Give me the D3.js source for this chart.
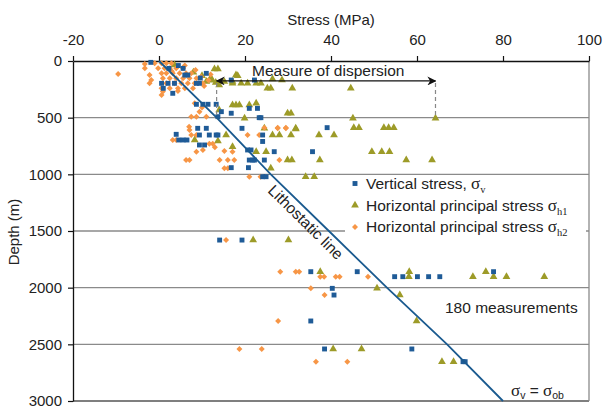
<!DOCTYPE html>
<html><head><meta charset="utf-8">
<script src="https://cdn.jsdelivr.net/npm/d3@7"></script>
<style>body{margin:0;background:#fff}svg{display:block;font-family:Arial,"Liberation Sans",sans-serif}</style>
</head><body><svg id="c" width="603" height="406"></svg>
<script>
// [stress (MPa), depth (m)]
const verticalStress = [
[-1.9,12],[2.3,65],[5.6,65],[6,124],[6.7,124],[0.6,197],[2.1,197],[3.6,197],[8.7,197],[9.4,197],[11,109],[3.2,285],[1,241],[9.6,150],[4.5,40],
[8.7,382],[10.2,382],[11.4,382],[13.3,382],[16.8,168],[22.2,168],
[21,418],[22.9,418],[16.8,461],[14.5,447],[13.7,491],[23.3,500],[23.7,500],
[4,647],[4.6,697],[5.6,697],[6.5,697],[9,594],[11,594],[9.4,653],[11.7,653],[13.3,653],[13.7,653],[9.4,741],[10.6,741],[19.3,594],[39.1,588],
[20.6,785],[21.4,785],[21,874],[21.8,874],[22.2,874],[16.8,941],[20.8,941],[24.1,1021],[24.9,1021],[24.1,653],[24.1,710],[26.8,800],[35.7,800],[24.5,874],
[14.1,1580],[19.3,1580],[35.3,1859],[46.1,1859],[54.8,1903],[56.7,1903],[60.1,1903],[62.7,1903],[65.3,1903],[77.8,1859],
[40.3,2006],[40.7,2065],[35.3,2294],[38.5,2541],[58.8,2541],[70.7,2653],[71.2,2653]
];
const sigmaH1 = [
[3.6,35],[12.9,71],[13.7,71],[12.4,170],[13.2,190],[14,212],[12,150],[10,130],[8,100],[11,180],[15.2,182],[17.1,182],[17.9,124],[18.3,130],
[17.1,197],[19.1,197],[20.6,197],[22.6,197],[23.7,197],[26.4,159],[28.6,168],[25.2,241],[26,241],[31,241],[44.6,241],
[17.1,388],[17.9,388],[18.7,388],[21,388],[22.6,373],[14,432],[19.9,506],[29.9,461],[30.7,461],[45.1,506],[64.3,506],
[31.8,600],[45.3,588],[46.5,588],[52.3,588],[53.4,588],[54.6,588],
[8.3,697],[13.7,706],[15.6,653],[17.1,756],[22.6,800],[24.9,800],[26.4,653],[28,653],[30.7,653],[31.8,594],[24.5,594],[37.2,653],[40.7,653],
[29.9,874],[30.9,874],[37.4,874],[26,947],[34.1,1021],[36.1,1021],[49.5,800],[51.8,800],[53.6,800],[57.5,874],[63.5,874],
[21.9,1580],[30.1,1580],[37.5,1859],[58.2,1859],[58.1,1903],[73,1903],[76,1859],[77.8,1903],[80.8,1903],[89.6,1903],
[50.7,2006],[56,2065],[59.9,2294],[40.5,2541],[47.1,2541],[65.8,2653],[68.5,2653]
];
const sigmaH2 = [
[-9.5,115],[-3.3,27],[-3.3,64],[-2.2,124],[-1.8,168],[-2.2,197],[0.6,241],[0.9,270],[0.6,300],
[-1,20],[0.6,20],[1.7,20],[2.9,20],
[-0.2,64],[1.3,64],[2.5,64],[4,64],[5.6,64],
[0.6,109],[1.7,109],[3.2,109],[4.8,109],[6.3,109],[7.5,109],
[0.9,153],[2.5,153],[4,153],[5.6,153],[7.1,153],[8.7,153],
[1.7,197],[3.6,197],[5.2,197],[6.7,197],[8.3,197],[10.2,197],
[2.5,241],[4.4,241],[6,241],[7.9,241],
[4.4,265],[9.8,138],[11.5,170],[10.5,220],[3,90],[6,40],[8.5,80],[12,120],
[8.3,373],[7.5,491],[8.7,491],[11,491],[9.4,447],[10,410],
[3.2,697],[4,697],[7,580],[7.1,609],[7.5,653],[8.7,653],[8.7,800],[11.7,730],[12.5,730],[13,760],[6.3,874],[7.1,874],
[14.1,874],[16,874],[17.5,874],[15.2,794],[17.1,800],[15.2,947],[16,947],[21,1021],[23.6,1021],[20.6,653],[23.3,653],
[27.6,594],[29.5,594],[28,874],[24.5,588],[27.6,588],[29.5,588],[10.2,785],
[15.6,1580],[28.2,1859],[31.8,1859],[32.6,1859],[37.5,1903],[38.4,1903],[41.1,1903],[42,1903],[48.6,1903],
[35.3,2006],[38.5,2065],[27.7,2294],[18.7,2541],[23.9,2541],[36.5,2653],[43.8,2653]
];
const lithoDepth = [0, 500, 1000, 1500, 2000, 2500, 3000];
const lithoStress = [0, 13.4, 26, 39.5, 53, 67, 80];
const stressTicks = [-20, 0, 20, 40, 60, 80, 100];
const depthTicks = [0, 500, 1000, 1500, 2000, 2500, 3000];
const dispersion = {depth: 176, from: 13.4, to: 64.3, base: 506};

const svg = d3.select("#c");
const x = d3.scaleLinear([-20, 100], [73, 589]);
const y = d3.scaleLinear([0, 3000], [61, 401]);
const BLUE = "#1f5b97", OLIVE = "#9d9b28", ORANGE = "#f79646", LINE = "#1a5a8f";
const fmt = d => String(d).replace("\u2212", "-");

// gridlines
svg.append("g").selectAll("line").data(depthTicks.filter(d => d > 0 && d < 3000)).join("line")
  .attr("x1", x(-20)).attr("x2", x(100)).attr("y1", d => y(d)).attr("y2", d => y(d))
  .attr("stroke", "#8a8a8a").attr("stroke-width", 1.3);
svg.append("line").attr("x1", x(-20)).attr("x2", x(100)).attr("y1", y(3000)).attr("y2", y(3000))
  .attr("stroke", "#555").attr("stroke-width", 1.5);
svg.append("line").attr("x1", x(100)).attr("x2", x(100)).attr("y1", y(0)).attr("y2", y(3000))
  .attr("stroke", "#8a8a8a").attr("stroke-width", 1.3);

// axes
const ax = svg.append("g").attr("transform", `translate(0,${y(0)})`)
  .call(d3.axisTop(x).tickValues(stressTicks).tickFormat(fmt).tickSize(5).tickSizeOuter(0).tickPadding(11));
const ay = svg.append("g").attr("transform", `translate(${x(-20)},0)`)
  .call(d3.axisLeft(y).tickValues(depthTicks).tickFormat(fmt).tickSize(5).tickSizeOuter(0).tickPadding(6));
[ax, ay].forEach(g => {
  g.selectAll("text").attr("font-size", 15).attr("fill", "#222").attr("font-family", "Arial, 'Liberation Sans', sans-serif");
  g.select(".domain").attr("stroke", "#111").attr("stroke-width", 1.3);
  g.selectAll(".tick line").attr("stroke", "#111").attr("stroke-width", 1.2);
});
svg.append("text").attr("x", 331).attr("y", 25).attr("text-anchor", "middle").attr("font-size", 15).attr("fill", "#222").text("Stress (MPa)");
svg.append("text").attr("transform", "translate(19,232) rotate(-90)").attr("text-anchor", "middle").attr("font-size", 15).attr("fill", "#222").text("Depth (m)");

// points
const sym = (type, size) => d3.symbol().type(type).size(size)();
const plot = (data, type, size, color, rot) => svg.append("g").selectAll("path").data(data).join("path")
  .attr("d", sym(type, size)).attr("fill", color)
  .attr("transform", d => `translate(${x(d[0])},${y(d[1])})` + (rot ? ` rotate(${rot})` : ""));
plot(sigmaH1, d3.symbolTriangle, 26, OLIVE);
plot(sigmaH2, d3.symbolSquare, 18, ORANGE, 45);
plot(verticalStress, d3.symbolSquare, 24, BLUE);

// lithostatic line
svg.append("path").datum(lithoDepth.map((d, i) => [lithoStress[i], d]))
  .attr("d", d3.line().x(d => x(d[0])).y(d => y(d[1])))
  .attr("fill", "none").attr("stroke", LINE).attr("stroke-width", 1.8);

// dispersion annotation
const defs = svg.append("defs");
defs.append("marker").attr("id", "ah").attr("viewBox", "0 0 10 10").attr("refX", 9).attr("refY", 5)
  .attr("markerWidth", 9).attr("markerHeight", 9).attr("markerUnits", "userSpaceOnUse").attr("orient", "auto-start-reverse")
  .append("path").attr("d", "M0,0 L10,5 L0,10 L3,5 Z").attr("fill", "#111");
[dispersion.from, dispersion.to].forEach(s => svg.append("line")
  .attr("x1", x(s)).attr("x2", x(s)).attr("y1", y(dispersion.depth) + 2).attr("y2", y(dispersion.base))
  .attr("stroke", "#888").attr("stroke-width", 1.2).attr("stroke-dasharray", "4,3"));
svg.append("line").attr("x1", x(dispersion.from)).attr("x2", x(dispersion.to))
  .attr("y1", y(dispersion.depth)).attr("y2", y(dispersion.depth))
  .attr("stroke", "#111").attr("stroke-width", 1.3)
  .attr("marker-start", "url(#ah)").attr("marker-end", "url(#ah)");
svg.append("text").attr("x", 252).attr("y", 76).attr("font-size", 15.5).attr("fill", "#222").text("Measure of dispersion");

// legend
const lg = svg.append("g");
lg.append("rect").attr("x", 345).attr("y", 176).attr("width", 241).attr("height", 64).attr("fill", "#fff");
const items = [
  {sym: d3.symbolSquare, size: 24, color: BLUE, rot: 0, label: "Vertical stress, ", sub: "v"},
  {sym: d3.symbolTriangle, size: 26, color: OLIVE, rot: 0, label: "Horizontal principal stress ", sub: "h1"},
  {sym: d3.symbolSquare, size: 18, color: ORANGE, rot: 45, label: "Horizontal principal stress ", sub: "h2"}
];
items.forEach((it, i) => {
  const cy = 183.5 + i * 21.7;
  lg.append("path").attr("d", sym(it.sym, it.size)).attr("fill", it.color).attr("transform", `translate(355,${cy}) rotate(${it.rot})`);
  const t = lg.append("text").attr("x", 366).attr("y", cy + 5.5).attr("font-size", 15.5).attr("fill", "#222");
  t.append("tspan").text(it.label);
  t.append("tspan").attr("font-family", "'Liberation Serif','DejaVu Serif',serif").attr("font-size", 17).text("σ");
  t.append("tspan").attr("font-family", "'Liberation Serif','DejaVu Serif',serif").attr("font-size", 10.5).attr("dy", 4).text(it.sub);
});

// lithostatic label
svg.append("text").attr("transform", "translate(302,226) rotate(44.7)").attr("text-anchor", "middle")
  .attr("font-size", 15.5).attr("fill", "#222").text("Lithostatic line");

svg.append("text").attr("x", 445).attr("y", 313).attr("font-size", 15.5).attr("fill", "#222").text("180 measurements");

const eq = svg.append("text").attr("x", 511).attr("y", 396).attr("font-size", 15.5).attr("fill", "#222");
eq.append("tspan").attr("font-family", "'Liberation Serif',serif").attr("font-size", 17).text("σ");
eq.append("tspan").attr("font-size", 10.5).attr("dy", 3).text("v");
eq.append("tspan").attr("dy", -3).text(" = ");
eq.append("tspan").attr("font-family", "'Liberation Serif',serif").attr("font-size", 17).text("σ");
eq.append("tspan").attr("font-size", 10.5).attr("dy", 3).text("ob");
</script></body></html>
